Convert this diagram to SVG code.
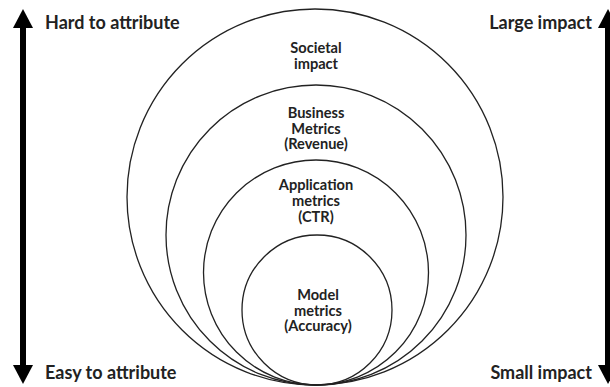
<svg xmlns="http://www.w3.org/2000/svg" width="610" height="387" viewBox="0 0 610 387">
<style>
.c{fill:none;stroke:#222;stroke-width:1.3}
.t{font-family:Lato,"Liberation Sans",sans-serif;font-weight:bold;fill:#222}
.s{font-size:18px}
.m{font-size:14.6px;text-anchor:middle}
.ax{stroke:#000;stroke-width:6}
</style>
<rect width="610" height="387" fill="#fff"/>
<g id="axes">
<line class="ax" x1="23" y1="24" x2="23" y2="370"/>
<polygon points="23,9 13,28 33,28" fill="#000"/>
<polygon points="23,384 13,365 33,365" fill="#000"/>
<line class="ax" x1="608" y1="24" x2="608" y2="370"/>
<polygon points="608,9 598,28 618,28" fill="#000"/>
<polygon points="608,384 598,365 618,365" fill="#000"/>
</g>
<g id="societal"><circle class="c" cx="315" cy="197" r="188"/>
<text class="t m" x="316" y="53">Societal</text><text class="t m" x="316" y="68.5">impact</text></g>
<g id="business"><circle class="c" cx="316" cy="235" r="150"/>
<text class="t m" x="316" y="118">Business</text><text class="t m" x="316" y="133.5">Metrics</text><text class="t m" x="316" y="149">(Revenue)</text></g>
<g id="application"><circle class="c" cx="316" cy="272.5" r="112.5"/>
<text class="t m" x="316" y="190">Application</text><text class="t m" x="316" y="206">metrics</text><text class="t m" x="316" y="222">(CTR)</text></g>
<g id="model"><circle class="c" cx="317" cy="310" r="75"/>
<text class="t m" x="318" y="300">Model</text><text class="t m" x="318" y="315.5">metrics</text><text class="t m" x="318" y="331">(Accuracy)</text></g>
<g id="labels">
<text class="t s" x="45" y="29">Hard to attribute</text>
<text class="t s" x="45" y="379">Easy to attribute</text>
<text class="t s" x="592" y="29" text-anchor="end">Large impact</text>
<text class="t s" x="592" y="379" text-anchor="end">Small impact</text>
</g>
</svg>
